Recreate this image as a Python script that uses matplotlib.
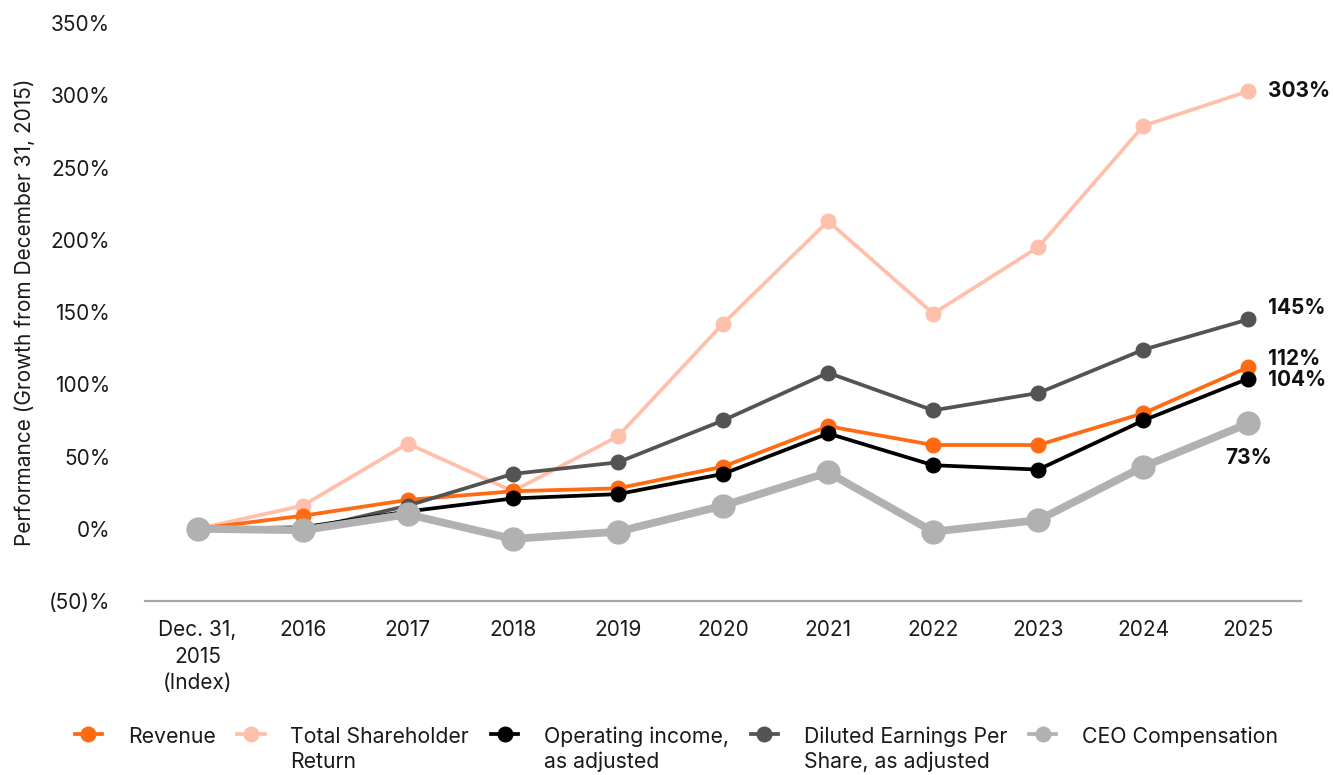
import matplotlib
matplotlib.use("Agg")
import matplotlib.pyplot as plt
from matplotlib.legend_handler import HandlerLine2D
from matplotlib.ticker import FuncFormatter

plt.rcParams['font.family'] = ['Inter', 'DejaVu Sans']

categories = ["Dec. 31,\n2015\n(Index)", "2016", "2017", "2018", "2019", "2020",
              "2021", "2022", "2023", "2024", "2025"]
revenue = [0, 9, 20, 26, 28, 43, 71, 58, 58, 80, 112]
tsr = [0, 16, 59, 26, 64, 142, 213, 149, 195, 279, 303]
op_income = [0, 1, 12, 21, 24, 38, 66, 44, 41, 75, 104]
eps = [0, -1, 16, 38, 46, 75, 108, 82, 94, 124, 145]
ceo_comp = [0, -1, 10, -7, -2, 16, 39, -2, 6, 43, 73]

end_labels = ["303%", "145%", "112%", "104%", "73%"]

fig = plt.figure(figsize=(13.33, 7.75), dpi=100)
ax = fig.add_axes([0.1088, 0.2245, 0.8672, 0.7455])

x = list(range(len(categories)))
c_orange = "#FF6A13"
c_peach = "#FFC0AB"
c_black = "#000000"
c_dgrey = "#545352"
c_lgrey = "#B1B1B1"
LW = 2.7

l_tsr, = ax.plot(x, tsr, color=c_peach, lw=LW, marker="o", ms=10.5, zorder=2,
                 label="Total Shareholder\nReturn")
l_rev, = ax.plot(x, revenue, color=c_orange, lw=LW, marker="o", ms=10.5, zorder=3,
                 label="Revenue\n ")
l_eps, = ax.plot(x, eps, color=c_dgrey, lw=LW, marker="o", ms=10.5, zorder=3.5,
                 label="Diluted Earnings Per\nShare, as adjusted")
l_op, = ax.plot(x, op_income, color=c_black, lw=LW, marker="o", ms=10.5, zorder=4,
                label="Operating income,\nas adjusted")
l_ceo, = ax.plot(x, ceo_comp, color=c_lgrey, lw=5.6, marker="o", ms=16.5, zorder=5,
                 label="CEO Compensation\n ")

ax.set_xlim(-0.5, 10.5)
ax.set_ylim(-50, 350)
ax.set_yticks(range(-50, 351, 50))
ax.yaxis.set_major_formatter(FuncFormatter(lambda v, p: f"({abs(int(v))})%" if v < 0 else f"{int(v)}%"))
ax.set_xticks(x)
ax.set_xticklabels(categories, linespacing=1.4)
ax.tick_params(axis="both", length=0, labelsize=15, colors="#1a1a1a")
ax.tick_params(axis="y", pad=25)
ax.tick_params(axis="x", pad=14)
for s in ["top", "right", "left"]:
    ax.spines[s].set_visible(False)
ax.spines["bottom"].set_color("#A6A6A6")
ax.spines["bottom"].set_linewidth(1.6)

ax.set_ylabel("Performance (Growth from December 31, 2015)", fontsize=15, color="#1a1a1a")
ax.yaxis.set_label_coords(-0.0955, 0.5)

# end labels
last = len(categories) - 1
bold = dict(fontsize=15, fontweight="bold", color="#111111")
ax.annotate(end_labels[0], (last, tsr[-1]), xytext=(14, 0), textcoords="offset points", va="center", **bold)
ax.annotate(end_labels[1], (last, eps[-1]), xytext=(14, 8), textcoords="offset points", va="center", **bold)
ax.annotate(end_labels[2], (last, revenue[-1]), xytext=(14, 6), textcoords="offset points", va="center", **bold)
ax.annotate(end_labels[3], (last, op_income[-1]), xytext=(14, -1), textcoords="offset points", va="center", **bold)
ax.annotate(end_labels[4], (last, ceo_comp[-1]), xytext=(0, -25), textcoords="offset points", va="center", ha="center", **bold)

LS = 1.3


class ShiftedHandler(HandlerLine2D):
    def create_artists(self, legend, orig_handle, xdescent, ydescent, width, height, fontsize, trans):
        arts = super().create_artists(legend, orig_handle, xdescent, ydescent, width, height, fontsize, trans)
        off = 0.6 * fontsize * 1.25
        for a in arts:
            a.set_ydata([yy + off for yy in a.get_ydata()])
        return arts


handles = [l_rev, l_tsr, l_op, l_eps, l_ceo]
hm = {h: ShiftedHandler(numpoints=1) for h in handles}
leg = fig.legend(handles=handles, labels=[h.get_label() for h in handles], handler_map=hm,
                 loc="upper left", bbox_to_anchor=(0.056, 0.063), ncol=5, frameon=False,
                 fontsize=15.3, handlelength=1.3, handletextpad=1.2, columnspacing=1.02,
                 labelspacing=0.2, borderaxespad=0, borderpad=0)
for t in leg.get_texts():
    t.set_linespacing(LS)
    t.set_color("#1a1a1a")
for lh in leg.legend_handles:
    lh.set_markersize(10.5)
    lh.set_linewidth(LW)

fig.savefig("out.png", dpi=100)
